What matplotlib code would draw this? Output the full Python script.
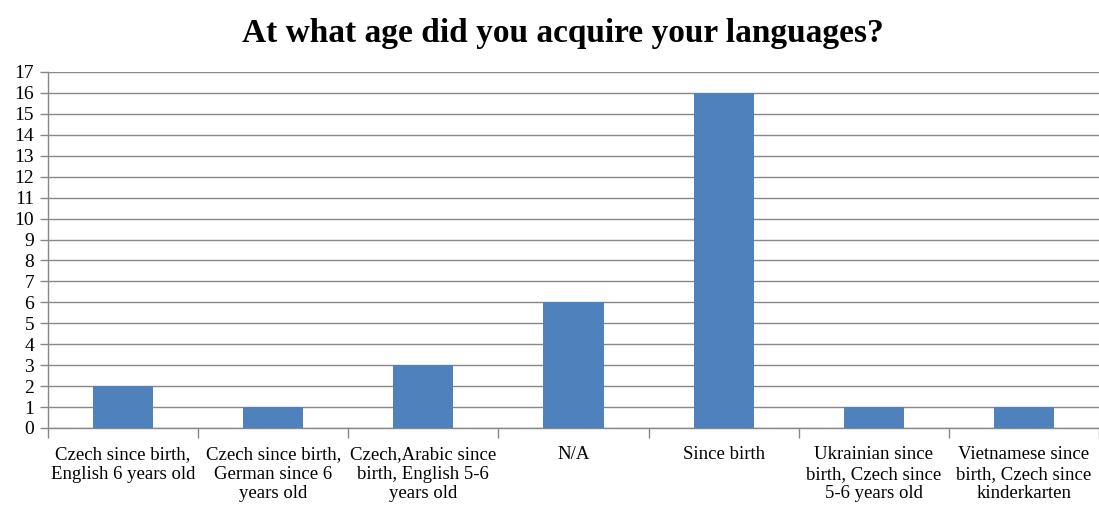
import matplotlib.pyplot as plt
from matplotlib.ticker import MultipleLocator, FixedLocator

# survey answers and counts
categories = [
    "Czech since birth,\nEnglish 6 years old",
    "Czech since birth,\nGerman since 6\nyears old",
    "Czech,Arabic since\nbirth, English 5-6\nyears old",
    "N/A",
    "Since birth",
    "Ukrainian since\nbirth, Czech since\n5-6 years old",
    "Vietnamese since\nbirth, Czech since\nkinderkarten",
]
counts = [2, 1, 3, 6, 16, 1, 1]

plt.rcParams['font.family'] = ['Liberation Serif', 'DejaVu Serif']

fig = plt.figure(figsize=(10.99, 5.07), dpi=100)
ax = fig.add_axes([48 / 1099, 1 - 428 / 507, 1 - 48 / 1099, (428 - 72) / 507])

x = range(len(categories))
ax.bar(x, counts, width=0.4, color='#4F81BD', zorder=3)

ax.set_xlim(-0.5, len(categories) - 0.5)
ax.set_ylim(0, 17)
ax.yaxis.set_major_locator(MultipleLocator(1))
ax.grid(axis='y', color='#878787', linewidth=1, zorder=0)

ax.set_xticks(list(x))
ax.set_xticklabels(categories, fontsize=13.5, linespacing=1.2)
ax.xaxis.set_minor_locator(FixedLocator([i - 0.5 for i in range(len(categories) + 1)]))
ax.tick_params(axis='x', which='major', length=0, pad=13)
ax.tick_params(axis='x', which='minor', length=7, color='#878787', width=1)
ax.tick_params(axis='y', length=6, color='#878787', width=1, labelsize=14, pad=4)

for s in ['top', 'right']:
    ax.spines[s].set_visible(False)
for s in ['left', 'bottom']:
    ax.spines[s].set_color('#878787')
    ax.spines[s].set_linewidth(1)

fig.suptitle('At what age did you acquire your languages?', fontsize=24,
             fontweight='bold', y=0.965, va='top', x=0.512)

fig.savefig('out.png', dpi=100)
